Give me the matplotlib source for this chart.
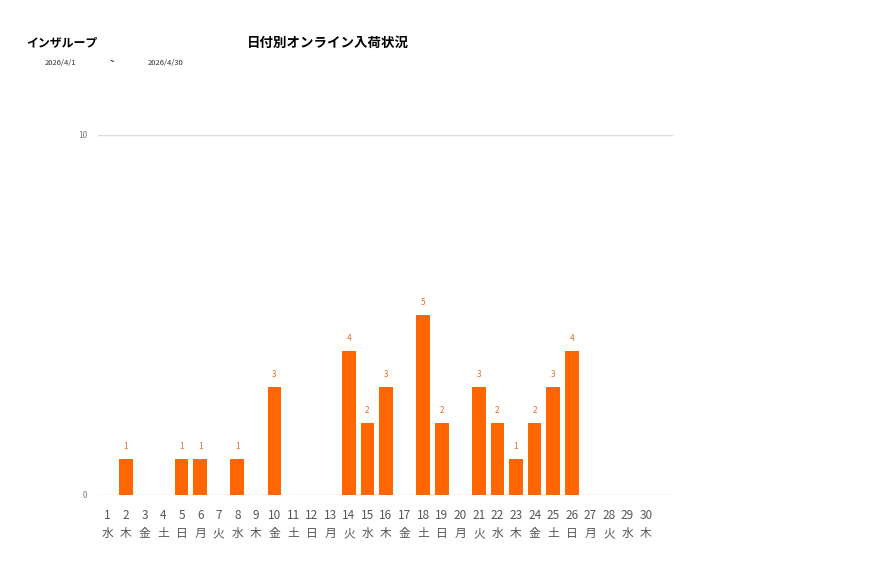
import matplotlib
matplotlib.use("Agg")
import matplotlib.pyplot as plt

plt.rcParams['font.family'] = ['Noto Sans CJK JP', 'DejaVu Sans']

days = list(range(1, 31))
weekdays = ["水", "木", "金", "土", "日", "月", "火"] * 5
weekdays = weekdays[:30]
counts = [0, 1, 0, 0, 1, 1, 0, 1, 0, 3,
          0, 0, 0, 4, 2, 3, 0, 5, 2, 0,
          3, 2, 1, 2, 3, 4, 0, 0, 0, 0]

BAR = "#FF6600"
GRID = "#DADADA"
TXT = "#555555"


def main():
    fig = plt.figure(figsize=(8.77, 5.78), dpi=100)
    ax = fig.add_axes([98 / 877, 1 - 495 / 578, 575 / 877, 360 / 578])

    xs = list(range(len(days)))
    bars = ax.bar(xs, counts, width=0.74, color=BAR, zorder=3)
    for b, v in zip(bars, counts):
        if v > 0:
            ax.text(b.get_x() + b.get_width() / 2, v + 0.22, str(v),
                    ha="center", va="bottom", fontsize=6, color="#E0702A")

    # plot area runs a little past the last day, as in the original
    ax.set_xlim(-0.5, len(days) + 0.45)
    ax.set_ylim(0, 10)
    ax.set_yticks([0, 10])
    ax.yaxis.grid(True, color=GRID, linewidth=1, zorder=0)
    ax.set_xticks(xs)
    ax.set_xticklabels([f"{d}\n{w}" for d, w in zip(days, weekdays)],
                       fontsize=8.5, color=TXT, linespacing=1.55)
    ax.tick_params(axis="x", length=0, pad=10)
    ax.tick_params(axis="y", length=0, pad=8, labelsize=6,
                   labelcolor="#777777")
    for s in ax.spines.values():
        s.set_visible(False)

    fig.text(26 / 877, 1 - 43 / 578, "インザループ", fontsize=8.6,
             fontweight="bold", ha="left", va="center")
    fig.text(328 / 877, 1 - 43 / 578, "日付別オンライン入荷状況", fontsize=9.7,
             fontweight="bold", ha="center", va="center")
    fig.text(45 / 877, 1 - 63 / 578, "2026/4/1", fontsize=5.5, ha="left",
             va="center", color="#333333")
    fig.text(112 / 877, 1 - 62 / 578, "~", fontsize=6, ha="center",
             va="center")
    fig.text(148 / 877, 1 - 63 / 578, "2026/4/30", fontsize=5.5, ha="left",
             va="center", color="#333333")

    fig.savefig("out.png", dpi=100)


if __name__ == "__main__":
    main()
